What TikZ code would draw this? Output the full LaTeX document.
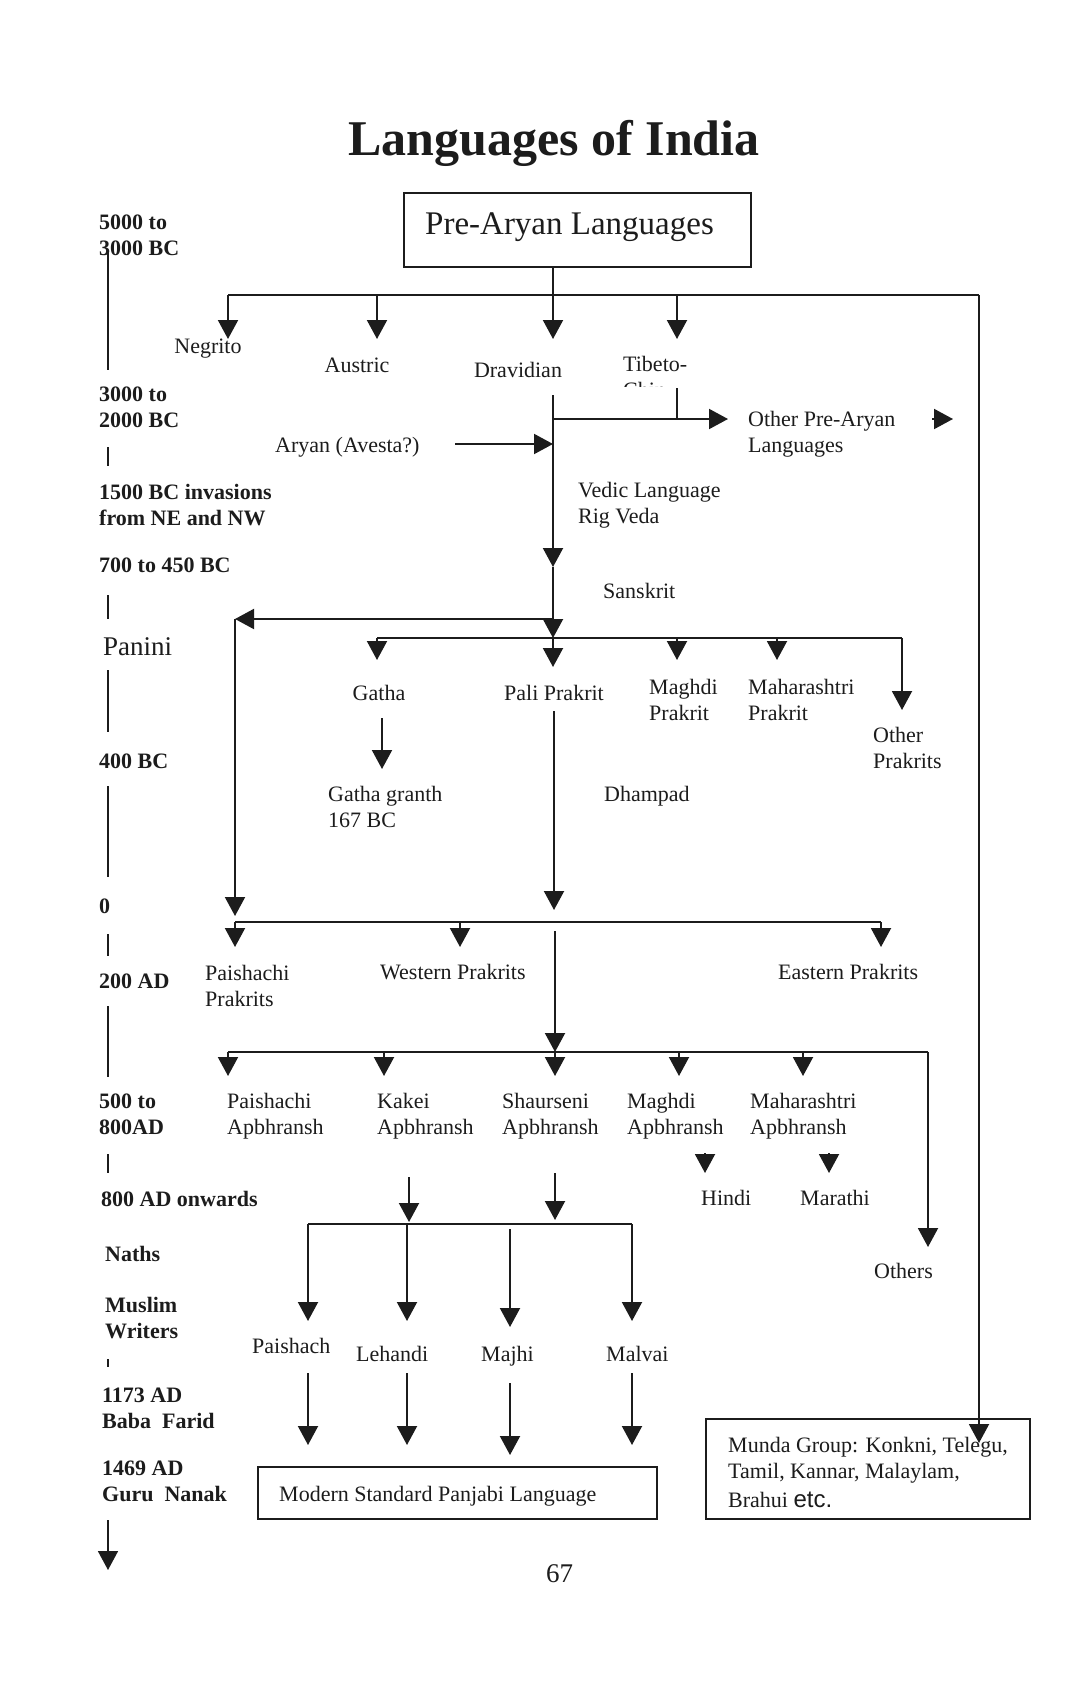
\documentclass[tikz,border=0pt]{standalone}
\usepackage{fontspec}
\setmainfont{Liberation Serif}
\newfontfamily\sansf{Liberation Sans}
\usetikzlibrary{arrows.meta}
\definecolor{ink}{HTML}{1C1C1C}
\newcommand\twoline[2]{\vtop{\hbox{#1}\hbox{#2}}}
\begin{document}
\begin{tikzpicture}[x=1pt,y=-1pt,
  ln/.style={line width=2pt, draw=ink},
  tl/.style={line width=1.6pt, draw=ink},
  arr/.style={ln, -{Triangle[width=20pt,length=19pt]}},
  tx/.style={font=\fontsize{22}{26}\selectfont, inner sep=0pt, anchor=base west, text=ink},
  bd/.style={font=\fontsize{22}{26}\selectfont\bfseries, inner sep=0pt, anchor=base west, text=ink},
  boxn/.style={draw=ink, line width=2pt, inner sep=0pt}]
\useasboundingbox (0,0) rectangle (1075,1688);
\fill[white] (0,0) rectangle (1075,1688);

% ---------- coordinates ----------
\foreach \n/\x/\y in {
 j0/553/295, b1L/228/295, b1R/979/295,
 tNeg/228/339, tAus/377/339, tDra/553/339, tTib/677/339,
 dTop/553/395, tVed/553/567, aS/455/444, aE/553/444,
 brA/553/419, tOth/728/419, tbTop/677/388, tbBot/677/419,
 lone1/932/419, lone2/953/419,
 brB/553/619, tLeft/235/619, tPai1/235/916,
 tSan/553/638, b2L/377/638, b2R/902/638,
 tGat/377/660, tPal/553/667, tMag/677/660, tMah/777/660, tOP/902/710,
 gS/382/718, gE/382/769, pS/554/711, pE/554/910,
 b3L/235/922, b3R/881/922, tPP/235/947, tWP/460/947, tEP/881/947,
 wS/555/931, wE/555/1052,
 b4L/228/1052, b4R/928/1052,
 tPA/228/1076, tKA/384/1076, tSA/555/1076, tMA/679/1076, tMhA/803/1076, tOths/928/1247,
 hS/705/1153, hE/705/1173, mS/829/1153, mE/829/1173,
 kS/409/1177, kE/409/1222, sS/555/1173, sE/555/1220,
 b5L/308/1224, b5R/632/1224,
 tPsh/308/1321, tLeh/407/1321, mjS/510/1229, tMaj/510/1327, tMal/632/1321,
 pshS/308/1373, pshE/308/1445, lehS/407/1373, lehE/407/1445,
 majS/510/1383, majE/510/1455, malS/632/1373, malE/632/1445,
 tMun/979/1443, tlS/108/1520, tlE/108/1570}
 \coordinate (\n) at (\x,\y);

% ---------- title and boxes ----------
\node[font=\fontsize{50}{55}\selectfont\bfseries, anchor=base, inner sep=0pt, text=ink] (title) at (554,156) {Languages of India};
\node[boxn, minimum width=347pt, minimum height=74pt] (pre) at (577.5,230) {};
\node[tx, font=\fontsize{33}{36}\selectfont] (pret) at (425,235) {Pre-Aryan Languages};
\node[boxn, minimum width=399pt, minimum height=52pt] (modern) at (457.5,1493) {};
\node[tx] (modt) at (279,1501) {Modern Standard Panjabi Language};
\node[boxn, minimum width=324pt, minimum height=100pt] (munda) at (868,1469) {};
\node[tx] (mun1) at (728,1452) {Munda Group: Konkni, Telegu,};
\node[tx] (mun2) at (728,1478) {Tamil, Kannar, Malaylam,};
\node[tx] (mun3) at (728,1507) {Brahui {\sansf\fontsize{24}{26}\selectfont etc.}};

% ---------- timeline ----------
\node[bd] (y1) at (99,230) {5000 to};
\node[bd] (y2) at (99,256) {3000 BC};
\node[bd] (y3) at (99,401) {3000 to};
\node[bd] (y4) at (99,427) {2000 BC};
\node[bd] (y5) at (99,499) {1500 BC invasions};
\node[bd] (y6) at (99,525) {from NE and NW};
\node[bd] (y7) at (99,572) {700 to 450 BC};
\node[tx, font=\fontsize{27}{30}\selectfont] (y8) at (103,655) {Panini};
\node[bd] (y9) at (99,768) {400 BC};
\node[bd] (y10) at (99,913) {0};
\node[bd] (y11) at (99,988) {200 AD};
\node[bd] (y12) at (99,1108) {500 to};
\node[bd] (y13) at (99,1134) {800AD};
\node[bd] (y14) at (101,1206) {800 AD onwards};
\node[bd] (y15) at (105,1261) {Naths};
\node[bd] (y16) at (105,1312) {Muslim};
\node[bd] (y17) at (105,1338) {Writers};
\node[bd] (y18) at (102,1402) {1173 AD};
\node[bd] (y19) at (102,1428) {Baba\ \ Farid};
\node[bd] (y20) at (102,1475) {1469 AD};
\node[bd] (y21) at (102,1501) {Guru\ \ Nanak};
\draw[tl] (108,250) -- (108,370);
\draw[tl] (108,447) -- (108,466);
\draw[tl] (108,595) -- (108,619);
\draw[tl] (108,670) -- (108,732);
\draw[tl] (108,786) -- (108,877);
\draw[tl] (108,934) -- (108,956);
\draw[tl] (108,1006) -- (108,1077);
\draw[tl] (108,1154) -- (108,1173);
\draw[tl] (108,1359) -- (108,1367);
\draw[arr, line width=1.6pt] (tlS) -- (tlE);

% ---------- labels ----------
\node[tx, anchor=base] (neg) at (208,353) {Negrito};
\node[tx, anchor=base] (aus) at (357,372) {Austric};
\node[tx, anchor=base] (dra) at (518,377) {Dravidian};
\node[tx] (tib) at (623,371) {Tibeto-};
\begin{scope}
  \clip (620,380) rectangle (662,386);
  \node[tx] (tib2) at (623,397) {Chinese};
\end{scope}
\node[tx] (ary) at (275,452) {Aryan (Avesta?)};
\node[tx] (opa) at (748,426) {\twoline{Other Pre-Aryan}{Languages}};
\node[tx] (ved) at (578,497) {\twoline{Vedic Language}{Rig Veda}};
\node[tx] (san) at (603,598) {Sanskrit};
\node[tx, anchor=base] (gat) at (379,700) {Gatha};
\node[tx] (pal) at (504,700) {Pali Prakrit};
\node[tx] (mag) at (649,694) {\twoline{Maghdi}{Prakrit}};
\node[tx] (mah) at (748,694) {\twoline{Maharashtri}{Prakrit}};
\node[tx] (oth) at (873,742) {\twoline{Other}{Prakrits}};
\node[tx] (gg) at (328,801) {\twoline{Gatha granth}{167 BC}};
\node[tx] (dha) at (604,801) {Dhampad};
\node[tx] (pp) at (205,980) {\twoline{Paishachi}{Prakrits}};
\node[tx] (wp) at (380,979) {Western Prakrits};
\node[tx] (ep) at (778,979) {Eastern Prakrits};
\node[tx] (pa) at (227,1108) {\twoline{Paishachi}{Apbhransh}};
\node[tx] (ka) at (377,1108) {\twoline{Kakei}{Apbhransh}};
\node[tx] (sa) at (502,1108) {\twoline{Shaurseni}{Apbhransh}};
\node[tx] (ma) at (627,1108) {\twoline{Maghdi}{Apbhransh}};
\node[tx] (mha) at (750,1108) {\twoline{Maharashtri}{Apbhransh}};
\node[tx] (hin) at (701,1205) {Hindi};
\node[tx] (mar) at (800,1205) {Marathi};
\node[tx] (oths) at (874,1278) {Others};
\node[tx] (psh) at (252,1353) {Paishach};
\node[tx] (leh) at (356,1361) {Lehandi};
\node[tx] (maj) at (481,1361) {Majhi};
\node[tx] (mal) at (606,1361) {Malvai};
\node[tx, font=\fontsize{27}{30}\selectfont] (pg) at (546,1582) {67};

% ---------- connectors ----------
\draw[arr] (pre.south -| j0) -- (tDra);
\draw[ln] (b1L) -- (b1R);
\draw[arr] (b1L) -- (tNeg);
\draw[arr] (tAus |- b1L) -- (tAus);
\draw[arr] (tTib |- b1L) -- (tTib);
\draw[arr] (b1R) -- (tMun);
\draw[arr] (dTop) -- (tVed);
\draw[arr] (aS) -- (aE);
\draw[arr] (brA) -- (tOth);
\draw[ln] (tbTop) -- (tbBot);
\draw[arr] (lone1) -- (lone2);
\draw[arr] (tVed) -- (tSan);
\draw[arr] (brB) -- (tLeft);
\draw[arr] (tLeft) -- (tPai1);
\draw[ln] (b2L) -- (b2R);
\draw[arr] (b2L) -- (tGat);
\draw[arr] (tSan) -- (tPal);
\draw[arr] (tMag |- b2L) -- (tMag);
\draw[arr] (tMah |- b2L) -- (tMah);
\draw[arr] (b2R) -- (tOP);
\draw[arr] (gS) -- (gE);
\draw[arr] (pS) -- (pE);
\draw[ln] (b3L) -- (b3R);
\draw[arr] (b3L) -- (tPP);
\draw[arr] (tWP |- b3L) -- (tWP);
\draw[arr] (b3R) -- (tEP);
\draw[arr] (wS) -- (wE);
\draw[ln] (b4L) -- (b4R);
\draw[arr] (b4L) -- (tPA);
\draw[arr] (tKA |- b4L) -- (tKA);
\draw[arr] (wE) -- (tSA);
\draw[arr] (tMA |- b4L) -- (tMA);
\draw[arr] (tMhA |- b4L) -- (tMhA);
\draw[arr] (b4R) -- (tOths);
\draw[arr] (hS) -- (hE);
\draw[arr] (mS) -- (mE);
\draw[arr] (kS) -- (kE);
\draw[arr] (sS) -- (sE);
\draw[ln] (b5L) -- (b5R);
\draw[arr] (b5L) -- (tPsh);
\draw[arr] (tLeh |- b5L) -- (tLeh);
\draw[arr] (mjS) -- (tMaj);
\draw[arr] (b5R) -- (tMal);
\draw[arr] (pshS) -- (pshE);
\draw[arr] (lehS) -- (lehE);
\draw[arr] (majS) -- (majE);
\draw[arr] (malS) -- (malE);
\end{tikzpicture}
\end{document}
